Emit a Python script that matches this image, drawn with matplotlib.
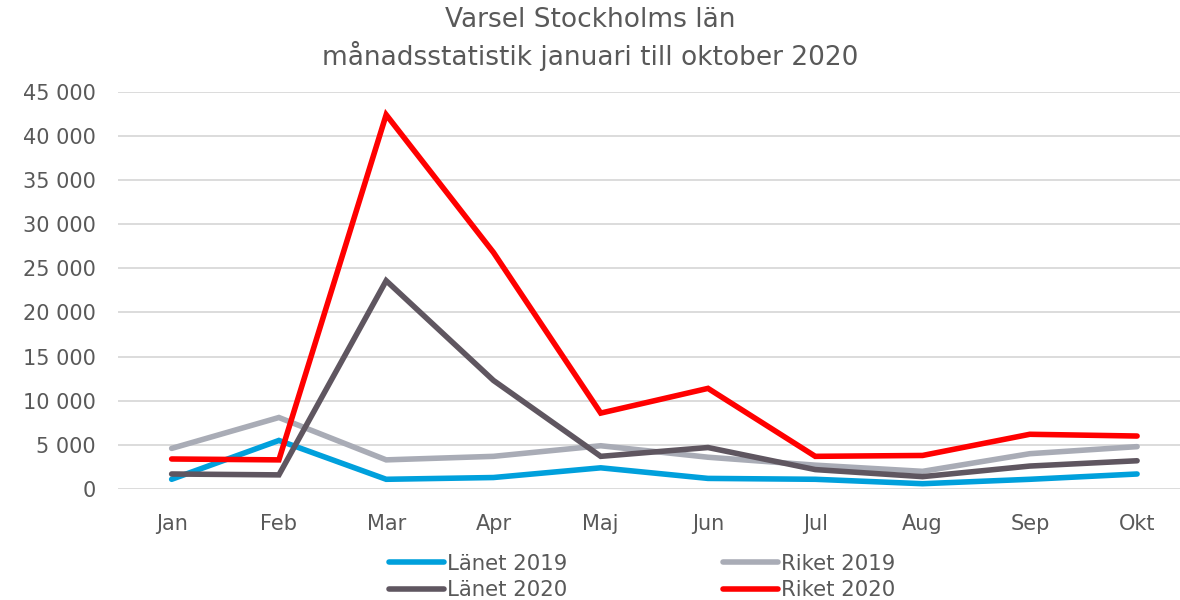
import matplotlib.pyplot as plt
from matplotlib.ticker import FuncFormatter

# data
months = ["Jan", "Feb", "Mar", "Apr", "Maj", "Jun", "Jul", "Aug", "Sep", "Okt"]
lanet_2019 = [1100, 5500, 1100, 1300, 2400, 1200, 1100, 600, 1100, 1700]
riket_2019 = [4600, 8100, 3300, 3700, 4900, 3600, 2700, 2000, 4000, 4800]
lanet_2020 = [1700, 1600, 23600, 12300, 3700, 4700, 2200, 1400, 2600, 3200]
riket_2020 = [3400, 3300, 42400, 26800, 8600, 11400, 3700, 3800, 6200, 6000]

series = [
    ("Länet 2019", lanet_2019, "#00A0DC"),
    ("Riket 2019", riket_2019, "#A9ACB6"),
    ("Länet 2020", lanet_2020, "#5F5660"),
    ("Riket 2020", riket_2020, "#FF0000"),
]

text_color = "#595959"
plt.rcParams["font.family"] = "DejaVu Sans"

fig = plt.figure(figsize=(11.8, 6), dpi=100)
ax = fig.add_axes([0.1, 0.185, 0.9, 0.662])

x = range(len(months))
lines = {}
for label, values, color in series:
    lines[label], = ax.plot(x, values, color=color, lw=4, label=label,
                            solid_capstyle="round", solid_joinstyle="miter")

ax.set_ylim(0, 45000)
ax.set_yticks(range(0, 45001, 5000))
ax.yaxis.set_major_formatter(FuncFormatter(lambda v, p: f"{int(v):,}".replace(",", " ")))
ax.set_xlim(-0.5, 9.4)
ax.set_xticks(list(x))
ax.set_xticklabels(months)

ax.grid(axis="y", color="#D9D9D9", lw=1.3)
ax.set_axisbelow(True)
for s in ax.spines.values():
    s.set_visible(False)
ax.tick_params(length=0, labelsize=15, colors=text_color)
ax.tick_params(axis="x", pad=18)
ax.tick_params(axis="y", pad=16)

fig.text(0.5, 0.935, "Varsel Stockholms län\nmånadsstatistik januari till oktober 2020",
         ha="center", va="center", fontsize=19, color=text_color, linespacing=1.3)

# legend fills column-wise, so order so rows read 2019 / 2020
order = ["Länet 2019", "Länet 2020", "Riket 2019", "Riket 2020"]
fig.legend([lines[k] for k in order], order, loc="center",
           bbox_to_anchor=(642 / 1180, 1 - 577 / 600), ncol=2,
           frameon=False, fontsize=15.3, handlelength=2.6, handletextpad=0.15,
           columnspacing=7.3, labelspacing=0.3, labelcolor=text_color)

fig.savefig("out.png", dpi=100)
